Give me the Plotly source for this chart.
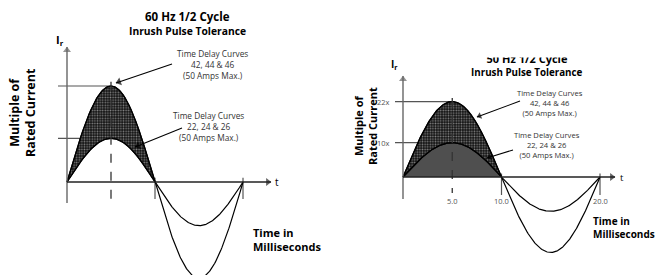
import math
import numpy as np
import plotly.graph_objects as go

W, H = 658, 275

# ---------------- data ----------------
peak_multiples = [22, 10]            # multiples of rated current (upper, lower curve)
curve_labels = ["Time Delay Curves<br>42, 44 & 46<br>(50 Amps Max.)",
                "Time Delay Curves<br>22, 24 & 26<br>(50 Amps Max.)"]
left_freq_hz = 60
right_freq_hz = 50
right_tick_ms = [5.0, 10.0, 20.0]
right_tick_labels = ["5.0", "10.0", "20.0"]
right_ytick_labels = ["22x", "10x"]
titles = ["60 Hz 1/2 Cycle", "50 Hz 1/2 Cycle"]
subtitle = "Inrush Pulse Tolerance"
ytitle = "Multiple of<br>Rated Current"
xtitle = "Time in<br>Milliseconds"

# ---------------- pixel helpers (layout only) ----------------
def px(x):
    return x / W

def py(y):
    return 1 - y / H

# scale (pixels per unit) and origin pixel of each panel
L = dict(ox=67, oy=182, kx=10.56, ky=4.364, xa="x", ya="y")
R = dict(ox=403, oy=177, kx=9.85, ky=3.43, xa="x2", ya="y2")

def xr(p):
    return [-p["ox"] / p["kx"], (W - p["ox"]) / p["kx"]]

def yr(p):
    return [-(H - p["oy"]) / p["ky"], p["oy"] / p["ky"]]

def tx(p, x):  # pixel -> data x
    return (x - p["ox"]) / p["kx"]

def ty(p, y):  # pixel -> data y
    return (p["oy"] - y) / p["ky"]

fig = go.Figure()

def wave(freq, amp, n=300, half=False):
    half_ms = 1000.0 / (2 * freq)
    t_end = half_ms if half else 2 * half_ms
    t = np.linspace(0, t_end, n)
    return t, amp * np.sin(np.pi * t / half_ms)

dots = dict(shape=".", fgcolor="#f2f2f2", bgcolor="#111111", size=2.6, solidity=0.35, fillmode="overlay")
fine = dict(shape=".", fgcolor="#b0b0b0", bgcolor="#333333", size=2.0, solidity=0.5, fillmode="overlay")

def add_panel(p, freq, low_pattern):
    t, ylo = wave(freq, peak_multiples[1], half=True)
    kw = dict(fill="tozeroy", fillcolor="rgba(0,0,0,0)", fillpattern=low_pattern) if low_pattern else {}
    fig.add_trace(go.Scatter(x=t, y=ylo, mode="lines", line=dict(color="black", width=1.2),
                             xaxis=p["xa"], yaxis=p["ya"], hoverinfo="skip", **kw))
    t, yhi = wave(freq, peak_multiples[0], half=True)
    fig.add_trace(go.Scatter(x=t, y=yhi, mode="lines", line=dict(color="black", width=1.2),
                             fill="tonexty", fillcolor="rgba(0,0,0,0)", fillpattern=dots,
                             xaxis=p["xa"], yaxis=p["ya"], hoverinfo="skip"))
    for a in peak_multiples:
        t, yy = wave(freq, a)
        fig.add_trace(go.Scatter(x=t, y=yy, mode="lines", line=dict(color="black", width=1.2),
                                 xaxis=p["xa"], yaxis=p["ya"], hoverinfo="skip"))

add_panel(L, left_freq_hz, None)
add_panel(R, right_freq_hz, fine)

# clipped right title drawn as a text trace (so a mask can sit on top)
fig.add_trace(go.Scatter(x=[tx(R, 527)], y=[ty(R, 60)], mode="text", text=["<b>" + titles[1] + "</b>"],
                         textfont=dict(family="Open Sans", size=11, color="black"),
                         xaxis="x2", yaxis="y2", hoverinfo="skip"))

shapes = []
annotations = []
heads = {"x": [], "y": [], "ang": [], "col": [], "size": []}
heads2 = {"x": [], "y": [], "ang": [], "col": [], "size": []}

def arrow(p, head, tail, color, width, size):
    """line from tail to head (pixels) with a triangular head marker"""
    shapes.append(dict(type="line", xref=p["xa"], yref=p["ya"], x0=tx(p, tail[0]), y0=ty(p, tail[1]),
                       x1=tx(p, head[0]), y1=ty(p, head[1]), line=dict(color=color, width=width),
                       layer="above"))
    dx, dy = head[0] - tail[0], head[1] - tail[1]
    ln = math.hypot(dx, dy)
    ux, uy = dx / ln, dy / ln
    back = size * 0.45
    hx, hy = head[0] - ux * back, head[1] - uy * back
    ang = math.degrees(math.atan2(dx, -dy))
    store = heads if p is L else heads2
    store["x"].append(tx(p, hx)); store["y"].append(ty(p, hy))
    store["ang"].append(ang); store["col"].append(color); store["size"].append(size)

def panel_decor(p, freq, axis_top, axis_bot, t_arrow, dash_bot, tick_bot, hline_x0):
    half_ms = 1000.0 / (2 * freq)
    peak_t = half_ms / 2
    for a in peak_multiples:
        shapes.append(dict(type="line", xref=p["xa"], yref=p["ya"], x0=tx(p, hline_x0), x1=peak_t, y0=a, y1=a,
                           line=dict(color="#555", width=1.2), layer="below"))
    shapes.append(dict(type="line", xref=p["xa"], yref=p["ya"], x0=peak_t, x1=peak_t, y0=peak_multiples[0] + 1,
                       y1=ty(p, dash_bot), line=dict(color="#333", width=1.3, dash="dash"), layer="above"))
    for tt in [half_ms, 2 * half_ms]:
        shapes.append(dict(type="line", xref=p["xa"], yref=p["ya"], x0=tt, x1=tt, y0=1, y1=ty(p, tick_bot),
                           line=dict(color="#555", width=1.2), layer="below"))
    # vertical and horizontal axes
    arrow(p, (p["ox"], axis_top), (p["ox"], axis_bot), "#666", 1.4, 7)
    arrow(p, (t_arrow, p["oy"]), (p["ox"], p["oy"]), "#222", 1.4, 7)

panel_decor(L, left_freq_hz, 47, 203, 271, 202, 199, 58)
panel_decor(R, right_freq_hz, 76, 199, 615, 193, 195, 395)

arrow(L, (116, 83), (172, 64), "black", 1.1, 7)
arrow(L, (135, 147), (182, 128), "black", 1.1, 7)
arrow(R, (477, 117), (520, 101), "black", 1.1, 6)
arrow(R, (487, 158), (513, 150), "black", 1.1, 6)

for store, p in ((heads, L), (heads2, R)):
    fig.add_trace(go.Scatter(x=store["x"], y=store["y"], mode="markers",
                             marker=dict(symbol="triangle-up", size=store["size"], angle=store["ang"],
                                         color=store["col"], line=dict(width=0)),
                             xaxis=p["xa"], yaxis=p["ya"], hoverinfo="skip"))

# mask that clips the top of the right-hand title
shapes.append(dict(type="rect", xref="paper", yref="paper", x0=px(455), x1=px(600), y0=py(57.5), y1=1,
                   fillcolor="white", line=dict(width=0), layer="above"))

FONT = "Open Sans"

def txt(x, y, s, size, color="black", xanchor="center", yanchor="middle", bold=False, angle=0, align="center"):
    annotations.append(dict(x=px(x), y=py(y), xref="paper", yref="paper", text=("<b>%s</b>" % s) if bold else s,
                            showarrow=False, xanchor=xanchor, yanchor=yanchor, textangle=angle, align=align,
                            font=dict(family=FONT, size=size, color=color)))

# Left panel text
txt(187, 16.5, titles[0], 11.5, bold=True)
txt(187, 30.5, subtitle, 10.3, bold=True)
txt(60, 40, "I<sub>r</sub>", 11, bold=True)
txt(22, 113, ytitle, 12.5, bold=True, angle=-90)
txt(277, 182, "t", 10)
txt(251, 239, xtitle, 11, bold=True, xanchor="left", align="left")
txt(213, 65, curve_labels[0], 8.3, color="#333")
txt(209, 126, curve_labels[1], 8.3, color="#333")

# Right panel text
txt(527, 72, subtitle, 9.8, bold=True)
txt(394, 65, "I<sub>r</sub>", 10, bold=True)
txt(365, 126, ytitle, 11, bold=True, angle=-90)
txt(622, 177, "t", 9.5)
txt(591, 227, xtitle, 10, bold=True, xanchor="left", align="left")
txt(550, 103, curve_labels[0], 7.6, color="#333")
txt(547, 145, curve_labels[1], 7.6, color="#333")

# right-panel tick labels through the data axes
for v, lab in zip(right_tick_ms, right_tick_labels):
    annotations.append(dict(x=v, y=ty(R, 201), xref="x2", yref="y2", text=lab, showarrow=False,
                            font=dict(family=FONT, size=7.5, color="#555")))
for v, lab in zip(peak_multiples, right_ytick_labels):
    annotations.append(dict(x=tx(R, 392), y=v, xref="x2", yref="y2", text=lab, showarrow=False,
                            xanchor="right", font=dict(family=FONT, size=7.5, color="#555")))

ax_common = dict(visible=False, domain=[0, 1], fixedrange=True)
fig.update_layout(
    width=W, height=H, autosize=False,
    margin=dict(l=0, r=0, t=0, b=0),
    paper_bgcolor="white", plot_bgcolor="white",
    showlegend=False,
    xaxis=dict(range=xr(L), **ax_common),
    yaxis=dict(range=yr(L), **ax_common),
    xaxis2=dict(range=xr(R), overlaying="x", anchor="y2", **ax_common),
    yaxis2=dict(range=yr(R), overlaying="y", anchor="x2", **ax_common),
    shapes=shapes,
    annotations=annotations,
)

fig.write_html("out.html", config={"displayModeBar": False},
               post_script="document.body.style.margin='0';document.body.style.overflow='hidden';")
